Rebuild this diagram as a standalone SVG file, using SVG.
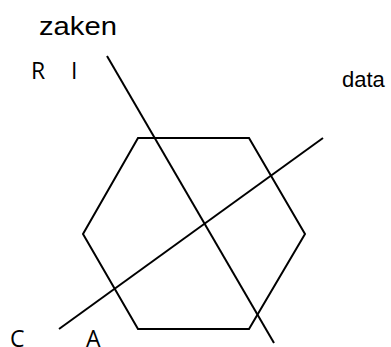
<svg xmlns="http://www.w3.org/2000/svg" width="391" height="347" viewBox="0 0 391 347">
<style>
.ln{fill:none;stroke:#000;stroke-width:2;stroke-linejoin:miter}
.a{font-family:"Liberation Sans",Arial,sans-serif;fill:#000}
.c{font-family:"Open Sans","Noto Sans",sans-serif;fill:#000}
</style>
<rect width="391" height="347" fill="#fff"/>
<g id="hexagon"><polygon class="ln" points="138,138 249,138 305,234 249,329 138,329 83,234"/></g>
<g id="connectors">
<line class="ln" x1="107" y1="56" x2="274" y2="343"/>
<line class="ln" x1="59" y1="329" x2="323" y2="138"/>
</g>
<g id="labels">
<text class="a" x="39" y="35" font-size="25" textLength="78" lengthAdjust="spacingAndGlyphs">zaken</text>
<text class="c" x="31" y="79" font-size="23">R</text>
<text class="c" x="71" y="79" font-size="23">I</text>
<text class="a" x="342" y="87" font-size="22">data</text>
<text class="c" x="10" y="347" font-size="23">C</text>
<text class="c" x="86" y="347" font-size="23">A</text>
</g>
</svg>
